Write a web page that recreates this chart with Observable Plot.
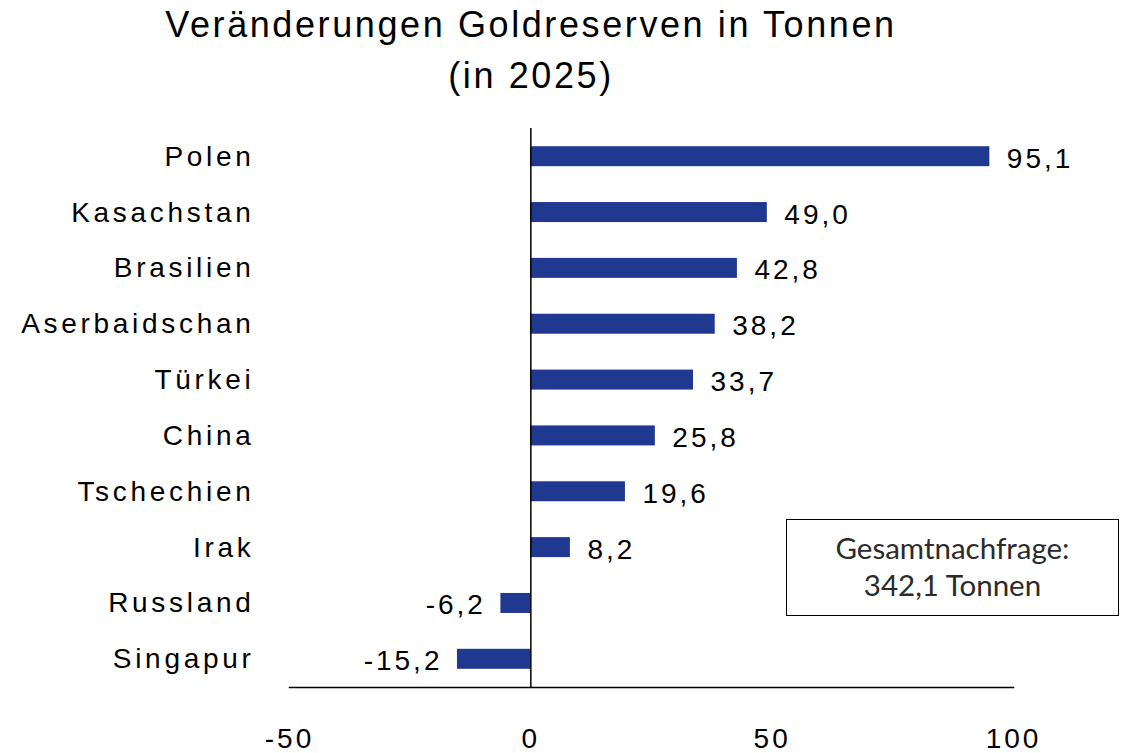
<!DOCTYPE html>
<html>
<head>
<meta charset="utf-8">
<script src="https://cdn.jsdelivr.net/npm/d3@7"></script>
<script src="https://cdn.jsdelivr.net/npm/@observablehq/plot@0.6"></script>
<style>
  html, body { margin: 0; padding: 0; background: #fff; }
  #wrap { position: relative; width: 1125px; height: 753px; }
  #title { position: absolute; left: 0; top: -1px; width: 1062px; text-align: center;
    font-family: "Liberation Sans", Arial, sans-serif; font-size: 36px;
    line-height: 51px; letter-spacing: 2.6px; color: #000; }
  #box { position: absolute; left: 786px; top: 519px; width: 333px; height: 97px; box-sizing: border-box;
    border: 1.5px solid #000; text-align: center; font-family: Lato, "Open Sans", sans-serif;
    font-size: 29.5px; line-height: 37px; padding-top: 9px; color: #2b2b2b; }
  #chart g[aria-label="y-axis tick label"] { letter-spacing: 3.7px; }
</style>
</head>
<body>
<div id="wrap">
  <div id="title">Veränderungen Goldreserven in Tonnen<br>(in 2025)</div>
  <div id="chart"></div>
  <div id="box">Gesamtnachfrage:<br>342,1 Tonnen</div>
</div>
<script>
const countries = ["Polen", "Kasachstan", "Brasilien", "Aserbaidschan", "Türkei", "China", "Tschechien", "Irak", "Russland", "Singapur"];
const values = [95.1, 49.0, 42.8, 38.2, 33.7, 25.8, 19.6, 8.2, -6.2, -15.2];
const xTicks = [-50, 0, 50, 100];

const data = countries.map((c, i) => ({country: c, value: values[i]}));
const fmt = v => v.toFixed(1).replace(".", ",");

const chart = Plot.plot({
  width: 1125,
  height: 753,
  marginTop: 128,
  marginBottom: 66,
  marginLeft: 289,
  marginRight: 112,
  x: {domain: [-50, 100]},
  y: {domain: countries, paddingInner: 0.642, paddingOuter: 0.326, round: false},
  style: {fontFamily: "'Liberation Sans', Arial, sans-serif", fontSize: "28px", letterSpacing: "3px", color: "#000", background: "transparent"},
  marks: [
    Plot.barX(data, {x: "value", y: "country", fill: "#1f3991"}),
    Plot.ruleX([0], {stroke: "#000", strokeWidth: 1.5}),
    Plot.frame({anchor: "bottom", stroke: "#000", strokeWidth: 1.5}),
    Plot.axisX({ticks: xTicks, tickSize: 0, tickPadding: 41, label: null, tickFormat: d => String(d), fontSize: 28}),
    Plot.axisY({tickSize: 0, tickPadding: 35, label: null, fontSize: 28}),
    Plot.text(data.filter(d => d.value >= 0), {x: "value", y: "country", text: d => fmt(d.value), textAnchor: "start", dx: 17, dy: 2, fontSize: 28}),
    Plot.text(data.filter(d => d.value < 0), {x: "value", y: "country", text: d => fmt(d.value), textAnchor: "end", dx: -15, dy: 2, fontSize: 28})
  ]
});
document.getElementById("chart").appendChild(chart);
</script>
</body>
</html>
